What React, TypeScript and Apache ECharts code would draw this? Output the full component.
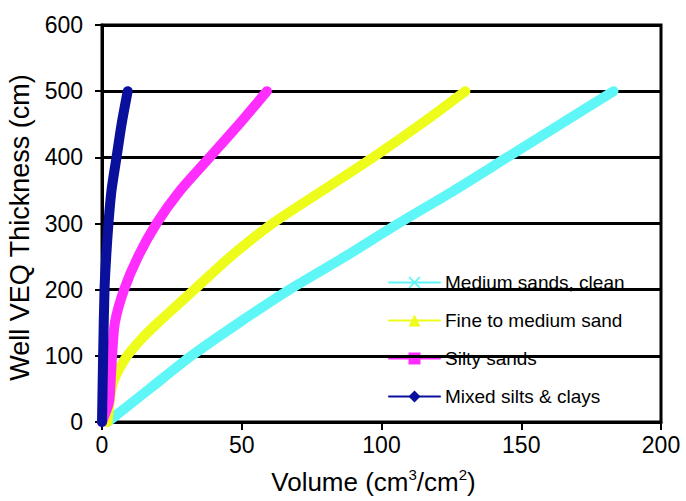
import React, { useEffect, useRef } from "react";
import * as echarts from "echarts";

const seriesNames = [
  "Medium sands, clean",
  "Fine to medium sand",
  "Silty sands",
  "Mixed silts & clays",
];

// [volume (cm3/cm2), thickness (cm)]
const mediumSands: number[][] = [
  [2, 0], [17, 50], [32, 100], [49, 150], [67, 200], [87, 250],
  [106, 300], [126, 350], [145, 400], [164, 450], [183, 500],
];
const fineSand: number[][] = [
  [2, 0], [3, 40], [4, 60], [5.5, 75], [9, 100], [14, 125], [20, 150],
  [26.5, 175], [33, 200], [46, 250], [61, 300], [79, 350], [97, 400],
  [114, 450], [130, 500],
];
const siltySands: number[][] = [
  [0, 0], [2.5, 30], [3.2, 70], [3.6, 100], [4.6, 150], [7.9, 200],
  [12.9, 250], [19.5, 300], [28, 350], [38.5, 400], [49, 450], [59, 500],
];
const mixedSilts: number[][] = [
  [0, 0], [0.4, 100], [0.9, 200], [1.5, 250], [2.3, 300], [3.4, 350],
  [5.2, 400], [7, 450], [9.2, 500],
];

const colors = ["#5EF6F6", "#EEFC1C", "#FF2EFF", "#0A109C"];
const symbols = [
  "path://M0,1L1,0L5,4L9,0L10,1L6,5L10,9L9,10L5,6L1,10L0,9L4,5Z",
  "triangle",
  "rect",
  "diamond",
];
const allData = [mediumSands, fineSand, siltySands, mixedSilts];

const FONT = "'Liberation Sans', Arial, Helvetica, sans-serif";

export default function App() {
  const ref = useRef<HTMLDivElement>(null);
  useEffect(() => {
    if (!ref.current) return;
    const chart = echarts.init(ref.current, undefined, { renderer: "svg" });
    chart.setOption({
      animation: false,
      backgroundColor: "#ffffff",
      grid: {
        left: 102,
        right: 25,
        top: 25,
        bottom: 79,
        outerBoundsMode: "none",
        containLabel: false,
        show: true,
        borderColor: "#000",
        borderWidth: 3,
        backgroundColor: "transparent",
      },
      legend: {
        orient: "vertical",
        left: 383,
        top: 268,
        z: 0,
        itemWidth: 51,
        itemHeight: 15,
        itemGap: 19,
        data: seriesNames,
        textStyle: { fontFamily: FONT, fontSize: 19, color: "#000" },
        lineStyle: { width: 2 },
      },
      xAxis: {
        type: "value",
        min: 0,
        max: 200,
        interval: 50,
        z: 1,
        name: "{b|Volume (cm}{sup|3}{b|/cm}{sup|2}{b|)}",
        nameLocation: "middle",
        nameGap: 45,
        nameTextStyle: {
          padding: [0, 16, 0, 0],
          rich: {
            b: { fontFamily: FONT, fontSize: 26, lineHeight: 30, color: "#000" },
            sup: {
              fontFamily: FONT,
              fontSize: 15,
              lineHeight: 16,
              verticalAlign: "top",
              color: "#000",
            },
          },
        },
        axisLine: { show: true, lineStyle: { color: "#000", width: 3 } },
        axisTick: { show: true, length: 8, lineStyle: { color: "#000", width: 2 } },
        axisLabel: { fontFamily: FONT, fontSize: 23, color: "#000", margin: 11 },
        splitLine: { show: false },
      },
      yAxis: {
        type: "value",
        min: 0,
        max: 600,
        interval: 100,
        z: 1,
        name: "Well VEQ Thickness (cm)",
        nameLocation: "middle",
        nameGap: 69,
        nameTextStyle: {
          fontFamily: FONT,
          fontSize: 27,
          color: "#000",
          padding: [0, 8, 0, 0],
        },
        axisLine: { show: true, lineStyle: { color: "#000", width: 3 } },
        axisTick: { show: true, length: 7, lineStyle: { color: "#000", width: 2 } },
        axisLabel: { fontFamily: FONT, fontSize: 23, color: "#000", margin: 19 },
        splitLine: { show: true, lineStyle: { color: "#000", width: 3 } },
      },
      series: seriesNames.map((name, i) => ({
        name,
        type: "line",
        data: allData[i],
        symbol: symbols[i],
        showSymbol: false,
        smooth: 0.25,
        color: colors[i],
        itemStyle: { color: colors[i] },
        lineStyle: { color: colors[i], width: 10, cap: "round", join: "round" },
        z: 2 + i,
      })),
    });
    return () => chart.dispose();
  }, []);
  return (
    <div
      ref={ref}
      style={{ position: "fixed", left: 0, top: 0, width: 686, height: 501 }}
    />
  );
}
